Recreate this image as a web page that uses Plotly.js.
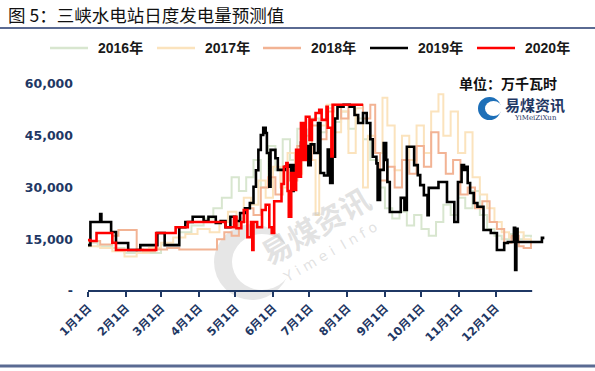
<!DOCTYPE html>
<html><head><meta charset="utf-8">
<script src="https://cdn.plot.ly/plotly-3.0.1.min.js"></script>
<style>html,body{margin:0;padding:0;background:#fff}#chart{width:595px;height:371px}</style>
</head><body><div id="chart"></div>
<script>
// ---- data (day offset from Jan 1, value in 万千瓦时) ----
const days16 = [0,8,20,30,40,50,60,75,85,95,103,110,118,124,130,136,142,148,154,160,166,172,178,184,190,196,202,208,214,220,226,232,238,244,250,256,262,268,274,280,286,292,298,304,310,316,322,328,334,340,346,352,358,364];
const vals16 = [14000,13000,12500,11000,12000,11000,13500,17000,19000,21000,24000,27000,33000,29000,33000,38000,30000,42000,35000,44000,38000,47000,42000,50000,46000,53000,49000,52000,47000,50000,44000,38000,30000,24000,21000,23000,19000,22000,18000,16000,20000,25000,22000,27000,24000,29000,22000,18000,16000,15000,16500,15000,16000,15500];
const days17 = [0,10,20,30,40,50,60,70,80,90,100,108,115,122,128,134,140,146,152,158,164,170,176,182,187,190,196,202,208,214,220,226,230,236,242,246,252,258,264,270,276,282,288,292,298,304,310,316,322,328,334,340,346,352,358,364];
const vals17 = [13000,12500,11500,10000,11000,12500,14000,15500,16500,18000,17000,20000,23000,21000,27000,25000,32000,27000,36000,30000,40000,34000,45000,38000,22000,48000,54000,46000,52000,40000,53000,30000,45000,40000,56000,48000,35000,45000,38000,48000,40000,52000,57000,45000,52000,40000,46000,33000,28000,24000,20000,17000,15500,17000,15000,14500];
const days18 = [0,10,20,25,35,40,45,55,65,75,85,95,103,106,112,118,124,130,136,142,148,154,160,166,172,178,184,190,196,202,208,214,220,226,232,236,240,246,252,258,264,270,276,282,288,294,300,306,312,318,324,330,336,342,348,354,358,364];
const vals18 = [14500,13500,16000,17700,17700,12000,11500,12000,12500,12000,12000,12000,12000,15000,17000,16000,20000,24000,22000,30000,33000,28000,36000,32000,42000,38000,48000,44000,52000,54000,50000,54000,54000,50000,54000,40000,32000,36000,30000,38000,34000,42000,36000,46000,40000,34000,38000,28000,30000,24000,26000,20000,18000,14000,16000,13000,12500,14000];
const days19 = [0,2,10,11,12,19,23,33,43,57,63,75,80,86,95,99,105,109,113,117,121,125,129,133,136,138,140,142,144,146,147,149,150,154,156,162,165,167,169,172,175,177,179,181,183,186,189,191,194,197,199,201,203,205,210,215,219,222,226,229,232,234,237,238,240,243,245,246,248,257,260,262,266,268,271,273,276,279,280,288,295,301,304,307,309,310,312,314,317,320,325,331,336,342,345,350,351,352,353,373,375];
const vals19 = [13300,20000,22300,20000,20000,17100,13900,11900,13300,16800,13300,18500,20000,21500,20300,21500,19700,20300,18500,21500,20300,22600,24000,25500,30200,35000,40900,45200,47300,45800,40000,30200,40900,38500,35100,36000,36500,29000,36500,38900,43000,46700,42000,36500,42500,40000,48700,34200,33500,41000,31300,38900,50000,53400,54000,53400,51000,48700,51600,48700,44000,38900,37000,26400,35100,42900,38000,31600,22900,27000,23500,41800,41800,36500,33600,30700,27800,22000,29900,31600,25800,20000,31600,36500,35100,36000,31300,28400,25500,24400,17700,16800,11900,13900,14200,18300,6100,18000,14200,15400,15400];
const days20 = [0,2,7,20,23,56,72,82,113,120,122,126,128,131,134,135,136,139,143,146,149,151,153,159,161,163,164,165,167,169,171,173,175,177,179,182,184,187,190,192,196,197,200,201,226];
const vals20 = [14800,14500,16800,14000,11900,16800,18500,20000,18500,21500,18200,20000,23500,15600,20000,11900,20000,18500,23500,25000,18500,16800,26000,31000,36000,37100,29000,21500,34200,29300,40900,33100,48700,38000,50500,43800,49600,51600,52500,49600,53400,47300,39000,54000,54000];
const seriesNames = ['2016年','2017年','2018年','2019年','2020年'];
const tickDates = ['2020-01-01','2020-02-01','2020-03-01','2020-04-01','2020-05-01','2020-06-01','2020-07-01','2020-08-01','2020-09-01','2020-10-01','2020-11-01','2020-12-01'];
const tickLabels = ['1月1日','2月1日','3月1日','4月1日','5月1日','6月1日','7月1日','8月1日','9月1日','10月1日','11月1日','12月1日'];
const yTickVals = [0,15000,30000,45000,60000];
const yTickText = ['-','15,000','30,000','45,000','60,000'];

// ---- helpers ----
const toDate = d => new Date(Date.UTC(2020,0,1) + d*86400000).toISOString().slice(0,10);
const L = 88, T = 84, W = 460, H = 207;
const px = x => (x - L) / W;       // decoration placement only
const py = y => (T + H - y) / H;

const navy = '#1f3864';
const colors = ['#d8e6cf','#fbe3bd','#f2b394','#000000','#ff0000'];
const widths = [2,2,2,2.6,2.6];
const D = [[days16,vals16],[days17,vals17],[days18,vals18],[days19,vals19],[days20,vals20]];

const traces = D.map((p,i)=>({
  type:'scatter', mode:'lines', name:seriesNames[i],
  x:p[0].map(toDate), y:p[1],
  line:{color:colors[i], width:widths[i], shape:'hv'},
  hoverinfo:'skip', showlegend:false
}));

// legend drawn as decoration (line sample + label)
const legX = [50,157,263,370,477];
const legendShapes = legX.map((x,i)=>({type:'line', xref:'paper', yref:'paper',
  x0:px(x), x1:px(x+38), y0:py(48), y1:py(48), line:{color:colors[i], width:2.6}}));
const legendText = legX.map((x,i)=>({xref:'paper', yref:'paper', x:px(x+46), y:py(48),
  xanchor:'left', yanchor:'middle', showarrow:false, text:seriesNames[i],
  font:{family:'Liberation Sans, Noto Sans CJK SC', size:14, color:'#1a1a1a', weight:'bold'}}));

const layout = {
  width:595, height:371,
  margin:{l:L, r:595-L-W, t:T, b:371-T-H},
  paper_bgcolor:'#fff', plot_bgcolor:'#fff',
  showlegend:false,
  xaxis:{type:'date', range:[toDate(0), toDate(378)], showgrid:false, zeroline:false, showline:false,
    tickmode:'array', tickvals:tickDates, ticktext:tickLabels, tickangle:-45,
    ticks:'outside', ticklen:5, tickwidth:2, tickcolor:navy,
    tickfont:{family:'DejaVu Sans, Noto Sans CJK SC', size:11.5, color:navy, weight:'bold'}},
  yaxis:{range:[0,60000], showgrid:false, zeroline:false, showline:false,
    tickmode:'array', tickvals:yTickVals, ticktext:yTickText, ticks:'', ticklabelstandoff:14,
    tickfont:{family:'DejaVu Sans', size:12.5, color:navy, weight:'bold'}},
  shapes:[
    {type:'line', xref:'x', yref:'paper', x0:toDate(0), x1:toDate(365), y0:0, y1:0, line:{color:navy, width:2}, layer:'above'},
    {type:'line', xref:'paper', yref:'paper', x0:px(0), x1:px(595), y0:py(28), y1:py(28), line:{color:'#5a6a92', width:2}},
    {type:'line', xref:'paper', yref:'paper', x0:px(0), x1:px(595), y0:py(366), y1:py(366), line:{color:'#5a6a92', width:3}},
    // watermark crescent
    {type:'circle', xref:'paper', yref:'paper', x0:px(214), x1:px(290), y0:py(300), y1:py(224), fillcolor:'rgba(200,200,200,0.45)', line:{width:0}, layer:'below'},
    {type:'circle', xref:'paper', yref:'paper', x0:px(232), x1:px(292), y0:py(290), y1:py(234), fillcolor:'#ffffff', line:{width:0}, layer:'below'},
    // logo
    {type:'circle', xref:'paper', yref:'paper', x0:px(478), x1:px(501), y0:py(120), y1:py(97), fillcolor:'#1d6fb8', line:{width:0}},
    {type:'circle', xref:'paper', yref:'paper', x0:px(485), x1:px(502), y0:py(116), y1:py(101), fillcolor:'#ffffff', line:{width:0}}
  ].concat(legendShapes),
  annotations:[
    {xref:'paper', yref:'paper', x:px(6), y:py(14), xanchor:'left', yanchor:'middle', showarrow:false,
      text:'图 5：三峡水电站日度发电量预测值', font:{family:'Noto Sans CJK SC', size:17.5, color:'#111'}},
    {xref:'paper', yref:'paper', x:px(508), y:py(83), xanchor:'center', yanchor:'middle', showarrow:false,
      text:'单位：万千瓦时', font:{family:'Noto Sans CJK SC', size:14, color:'#111', weight:'bold'}},
    {xref:'paper', yref:'paper', x:px(535), y:py(104), xanchor:'center', yanchor:'middle', showarrow:false,
      text:'易煤资讯', font:{family:'Noto Sans CJK SC', size:15, color:'#1f3864', weight:'bold'}},
    {xref:'paper', yref:'paper', x:px(535), y:py(118), xanchor:'center', yanchor:'middle', showarrow:false,
      text:'YiMeiZiXun', font:{family:'DejaVu Serif', size:7, color:'#1f3864'}},
    {xref:'paper', yref:'paper', x:px(315), y:py(225), xanchor:'center', yanchor:'middle', showarrow:false, textangle:-30,
      text:'易煤资讯', font:{family:'Noto Sans CJK SC', size:30, color:'rgba(190,190,190,0.45)', weight:'bold'}},
    {xref:'paper', yref:'paper', x:px(330), y:py(252), xanchor:'center', yanchor:'middle', showarrow:false, textangle:-30,
      text:'Y i m e i  I n f o', font:{family:'DejaVu Sans', size:14, color:'rgba(190,190,190,0.45)'}}
  ].concat(legendText)
};
Plotly.newPlot('chart', traces, layout, {staticPlot:true, displayModeBar:false});
</script></body></html>
